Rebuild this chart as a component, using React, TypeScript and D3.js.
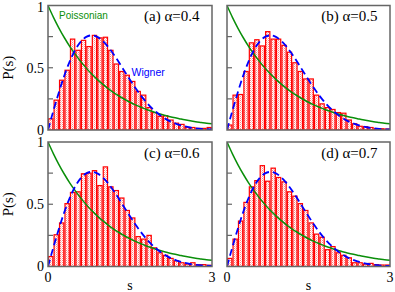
import React from 'react';
import * as d3 from 'd3';

// spacing grid for the theoretical curves (s = 0 .. 3, step 0.1)
const sGrid = [0, 0.1, 0.2, 0.3, 0.4, 0.5, 0.6, 0.7, 0.8, 0.9, 1.0, 1.1, 1.2, 1.3, 1.4, 1.5, 1.6, 1.7, 1.8, 1.9, 2.0, 2.1, 2.2, 2.3, 2.4, 2.5, 2.6, 2.7, 2.8, 2.9, 3.0];
const poissonP = [1, 0.905, 0.819, 0.741, 0.670, 0.607, 0.549, 0.497, 0.449, 0.407, 0.368, 0.333, 0.301, 0.273, 0.247, 0.223, 0.202, 0.183, 0.165, 0.150, 0.135, 0.122, 0.111, 0.100, 0.091, 0.082, 0.074, 0.067, 0.061, 0.055, 0.050];
const wignerP = [0, 0.156, 0.304, 0.439, 0.554, 0.645, 0.710, 0.748, 0.760, 0.748, 0.716, 0.668, 0.608, 0.542, 0.472, 0.403, 0.337, 0.276, 0.222, 0.175, 0.136, 0.103, 0.077, 0.057, 0.041, 0.029, 0.020, 0.014, 0.009, 0.006, 0.004];

// histogram bin width and bar heights (30 bins from 0 to 3)
const binWidth = 0.1;
const histA = [0.09, 0.24, 0.40, 0.48, 0.73, 0.64, 0.72, 0.67, 0.76, 0.74, 0.745, 0.64, 0.53, 0.47, 0.44, 0.39, 0.31, 0.28, 0.18, 0.14, 0.11, 0.115, 0.08, 0.055, 0.045, 0.02, 0.02, 0.013, 0.013, 0.02];
const histB = [0.04, 0.28, 0.285, 0.47, 0.70, 0.725, 0.675, 0.79, 0.73, 0.73, 0.68, 0.625, 0.54, 0.47, 0.41, 0.41, 0.28, 0.21, 0.18, 0.165, 0.14, 0.135, 0.08, 0.05, 0.03, 0.027, 0.02, 0.01, 0.01, 0.008];
const histC = [0.08, 0.255, 0.35, 0.505, 0.595, 0.60, 0.745, 0.75, 0.77, 0.65, 0.80, 0.64, 0.61, 0.55, 0.45, 0.39, 0.24, 0.22, 0.25, 0.15, 0.11, 0.09, 0.065, 0.045, 0.03, 0.02, 0.03, 0.015, 0.015, 0.01];
const histD = [0.065, 0.22, 0.365, 0.515, 0.64, 0.69, 0.81, 0.685, 0.79, 0.715, 0.68, 0.60, 0.565, 0.505, 0.45, 0.35, 0.26, 0.235, 0.135, 0.16, 0.11, 0.09, 0.07, 0.03, 0.03, 0.02, 0.025, 0.015, 0.012, 0.012];

const panelLabels = ['(a) α=0.4', '(b) α=0.5', '(c) α=0.6', '(d) α=0.7'];
const panelHists = [histA, histB, histC, histD];
const yTickValues = [0.25, 0.5, 0.75];
const yTickLabels = [
  { v: 1, t: '1' },
  { v: 0.5, t: '0.5' },
  { v: 0, t: '0' },
];
const xTickLabels = [
  { v: 0, t: '0' },
  { v: 3, t: '3' },
];

const colX: [number, number][] = [[48, 212], [227, 390]];
const rowY: [number, number][] = [[5.5, 130], [142, 266.5]];

const SERIF = "'Liberation Serif', 'DejaVu Serif', serif";
const SANS = "'Liberation Sans', Arial, sans-serif";

function Panel({ idx }: { idx: number }) {
  const col = idx % 2;
  const row = Math.floor(idx / 2);
  const [x0, x1] = colX[col];
  const [y0, y1] = rowY[row];
  const x = d3.scaleLinear().domain([0, 3]).range([x0, x1]);
  const y = d3.scaleLinear().domain([0, 1]).range([y1, y0]);
  const hist = panelHists[idx];
  const line = d3
    .line<number>()
    .x((_, i) => x(sGrid[i]))
    .y((d) => y(d))
    .curve(d3.curveMonotoneX);
  const clipId = `clip-${idx}`;
  const bw = x(binWidth) - x(0);
  return (
    <g>
      <defs>
        <clipPath id={clipId}>
          <rect x={x0} y={y0} width={x1 - x0} height={y1 - y0} />
        </clipPath>
      </defs>
      {yTickValues.map((v) => (
        <line key={v} x1={x0} x2={x0 + 5} y1={y(v)} y2={y(v)} stroke="#666" strokeWidth={1.2} />
      ))}
      <g clipPath={`url(#${clipId})`}>
        {hist.map((v, i) => (
          <rect
            key={i}
            x={x(i * binWidth) + 0.6}
            y={y(v)}
            width={bw - 1.2}
            height={y(0) - y(v)}
            fill="url(#dots)"
            stroke="#ff0000"
            strokeWidth={1.2}
          />
        ))}
        <path d={line(poissonP) || ''} fill="none" stroke="#0a8f0a" strokeWidth={1.5} />
        <path d={line(wignerP) || ''} fill="none" stroke="#0000ff" strokeWidth={1.8} strokeDasharray="7,4" />
      </g>
      <rect x={x0} y={y0} width={x1 - x0} height={y1 - y0} fill="none" stroke="#666" strokeWidth={1.5} />
      <text x={x1 - 12.5} y={y0 + 15.5} textAnchor="end" fontFamily={SERIF} fontSize={15} fill="#000">
        {panelLabels[idx]}
      </text>
      {idx === 0 && (
        <>
          <text x={59} y={19.3} fontFamily={SANS} fontSize={10} fill="#0a8f0a">Poissonian</text>
          <text x={131.5} y={76} fontFamily={SANS} fontSize={10.5} fill="#0000ff">Wigner</text>
        </>
      )}
      {col === 0 &&
        yTickLabels.map((t) => (
          <text
            key={t.t}
            x={x0 - 4}
            y={y(t.v) + (t.v === 1 && row === 0 ? 1.5 : 0)}
            dy="0.35em"
            textAnchor="end"
            fontFamily={SERIF}
            fontSize={14}
            fill="#000"
          >
            {t.t}
          </text>
        ))}
      {col === 0 && (
        <text
          transform={`translate(13,${(y0 + y1) / 2}) rotate(-90)`}
          textAnchor="middle"
          fontFamily={SERIF}
          fontSize={15}
          fill="#000"
        >
          P(s)
        </text>
      )}
      {row === 1 &&
        xTickLabels.map((t) => (
          <text key={t.t} x={x(t.v)} y={281.5} textAnchor="middle" fontFamily={SERIF} fontSize={14} fill="#000">
            {t.t}
          </text>
        ))}
      {row === 1 && (
        <text x={(x0 + x1) / 2} y={290} textAnchor="middle" fontFamily={SERIF} fontSize={14} fill="#000">
          s
        </text>
      )}
    </g>
  );
}

export default function App() {
  return (
    <svg
      width={395}
      height={292}
      style={{ position: 'absolute', left: 0, top: 0, background: '#fff' }}
    >
      <defs>
        <pattern id="dots" width={2} height={2} patternUnits="userSpaceOnUse">
          <rect width={2} height={2} fill="#ffffff" />
          <rect x={0} y={0} width={1} height={1} fill="#ff3030" opacity={0.6} />
          <rect x={1} y={1} width={1} height={1} fill="#ff9090" opacity={0.5} />
        </pattern>
      </defs>
      {[0, 1, 2, 3].map((i) => (
        <Panel key={i} idx={i} />
      ))}
    </svg>
  );
}
